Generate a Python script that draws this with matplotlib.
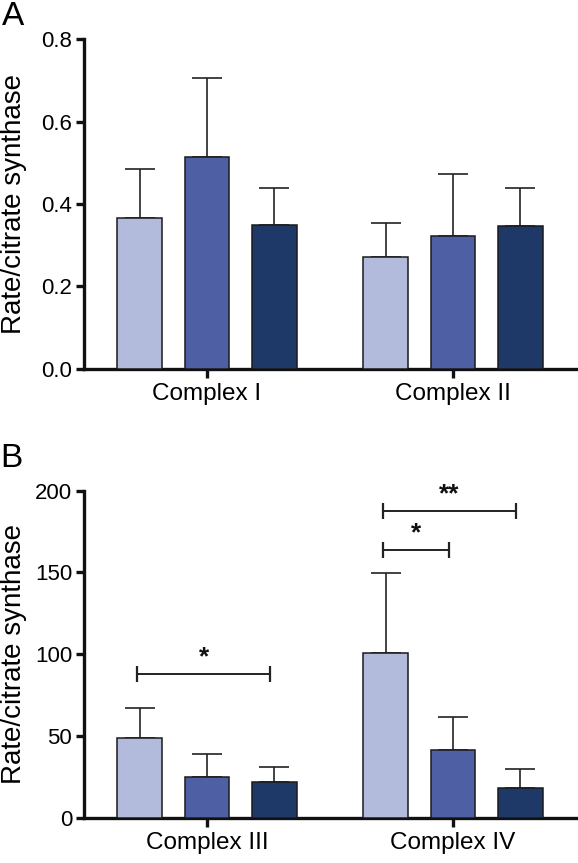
import matplotlib
matplotlib.use("Agg")
import matplotlib.pyplot as plt
import numpy as np

plt.rcParams['font.family'] = ['Liberation Sans', 'DejaVu Sans']

# ---- data ----
cats_a = ["Complex I", "Complex II"]
mean_a = [[0.365, 0.270],   # group 1 (light)
          [0.515, 0.322],   # group 2 (medium)
          [0.348, 0.346]]   # group 3 (dark)
err_a = [[0.120, 0.084],
         [0.190, 0.151],
         [0.090, 0.093]]

cats_b = ["Complex III", "Complex IV"]
mean_b = [[48.5, 100.5],
          [25.0, 41.3],
          [21.5, 18.2]]
err_b = [[18.7, 48.9],
         [13.9, 20.0],
         [9.4, 11.3]]

yticks_a = [0.0, 0.2, 0.4, 0.6, 0.8]
yticks_b = [0, 50, 100, 150, 200]

# significance brackets: (category index, bar i, bar j, height, label)
sig_b = [(0, 0, 2, 88.0, "*"),
         (1, 0, 1, 164.0, "*"),
         (1, 0, 2, 187.8, "**")]

colors = ["#b2bbdb", "#4f5fa3", "#1e3868"]
ylabel = "Rate/citrate synthase"

W, H = 578, 863
fig = plt.figure(figsize=(W / 100, H / 100), dpi=100)

width = 0.182
offs = [-0.273, 0.0, 0.273]


def panel(rect, cats, means, errs, yticks, ylim, fmt, letter, letter_pos):
    ax = fig.add_axes(rect)
    x = np.arange(len(cats))
    for k in range(3):
        ax.bar(x + offs[k], means[k], width, color=colors[k], edgecolor="#1a1a1a",
               linewidth=1.1, zorder=3)
        ax.errorbar(x + offs[k], means[k], yerr=[np.zeros(len(cats)), errs[k]],
                    fmt="none", ecolor="#222222", elinewidth=1.2, capsize=10.5,
                    capthick=1.2, zorder=2)
    ax.set_xlim(-0.5, 1.5)
    ax.set_ylim(*ylim)
    ax.set_xticks(x)
    ax.set_xticklabels(cats, fontsize=17.5)
    ax.set_yticks(yticks)
    ax.set_yticklabels([fmt.format(t) for t in yticks], fontsize=16)
    for s in ["top", "right"]:
        ax.spines[s].set_visible(False)
    for s in ["left", "bottom"]:
        ax.spines[s].set_linewidth(2.4)
        ax.spines[s].set_color("#111111")
    ax.tick_params(axis="y", length=6, width=2.4, pad=2.5, color="#111111")
    ax.tick_params(axis="x", length=6.5, width=2.4, pad=4, color="#111111")
    ax.set_ylabel(ylabel, fontsize=20)
    ax.yaxis.set_label_coords((27 - 84) / 492, 0.5)
    fig.text(letter_pos[0] / W, 1 - letter_pos[1] / H, letter, fontsize=24,
             ha="left", va="top")
    return ax


axA = panel([84 / W, 1 - 368.5 / H, 492 / W, 329.2 / H], cats_a, mean_a, err_a,
            yticks_a, (0, 0.8), "{:.1f}", "A", (2, 1))
axB = panel([84 / W, 1 - 817.5 / H, 492 / W, 326.8 / H], cats_b, mean_b, err_b,
            yticks_b, (0, 200), "{:d}", "B", (0, 443))

for ci, i, j, h, lab in sig_b:
    x1 = ci + offs[i] - 0.012
    x2 = ci + offs[j] - 0.015
    axB.plot([x1, x2], [h, h], color="#222222", lw=1.4, marker="|",
             markersize=11, markeredgewidth=1.6, zorder=4, clip_on=False)
    axB.text((x1 + x2) / 2, h + 2.5, lab, ha="center", va="bottom",
             fontsize=19, fontweight="bold", color="#111111")

fig.savefig("out.png", dpi=100)
